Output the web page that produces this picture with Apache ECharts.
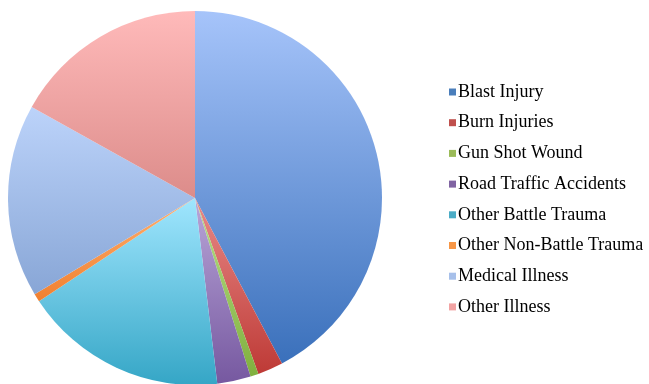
<!DOCTYPE html>
<html>
<head>
<meta charset="utf-8">
<script src="https://cdn.jsdelivr.net/npm/echarts@6/dist/echarts.min.js"></script>
<style>html,body{margin:0;padding:0;background:#fff;}#c{width:649px;height:384px;}</style>
</head>
<body>
<div id="c"></div>
<script>
const categories = ["Blast Injury","Burn Injuries","Gun Shot Wound","Road Traffic Accidents","Other Battle Trauma","Other Non-Battle Trauma","Medical Illness","Other Illness"];
const values = [42.3, 2.2, 0.7, 2.9, 17.6, 0.7, 16.7, 16.9];
const topColors = ["#a6c4fa","#e88a88","#b8e08a","#b9a6d8","#a0e6fe","#ffb070","#bcd3fa","#ffbaba"];
const bottomColors = ["#3a70bb","#be3a36","#80b03e","#7658a0","#35a6c6","#f08030","#88a6d6","#dc8c8a"];
const legendColors = ["#4a7ebb","#c0504d","#9bbb59","#8064a2","#4bacc6","#f79646","#a7c0ea","#f2a3a3"];

const chart = echarts.init(document.getElementById('c'), null, {renderer:'canvas'});
const data = categories.map((n,i)=>({
  name:n, value:values[i],
  itemStyle:{color:new echarts.graphic.LinearGradient(0,0,0,1,[{offset:0,color:topColors[i]},{offset:1,color:bottomColors[i]}])}
}));
chart.setOption({
  animation:false,
  color: legendColors,
  legend:{
    orient:'vertical', left:444, top:78, icon:'rect', itemWidth:7, itemHeight:7, itemGap:12.7,
    textStyle:{fontFamily:'Liberation Serif', fontSize:18, color:'#000', lineHeight:18, padding:[0,0,0,-3]},
    data: categories.map((n,i)=>({name:n, itemStyle:{color:legendColors[i]}}))
  },
  series:[{
    type:'pie', center:[195,198], radius:187, startAngle:90, clockwise:true,
    label:{show:false}, labelLine:{show:false}, emphasis:{disabled:true},
    itemStyle:{borderWidth:0},
    data:data
  }]
});
</script>
</body>
</html>
